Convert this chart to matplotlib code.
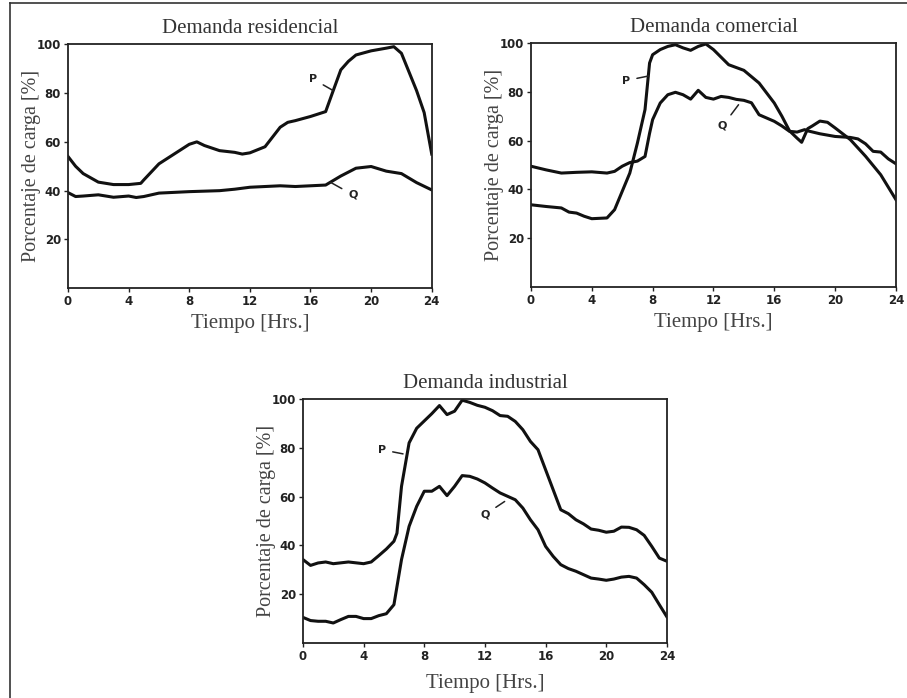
import matplotlib.pyplot as plt
from matplotlib.lines import Line2D

# Residential demand
res_p_h = [0, 0.5, 1, 2, 3, 4, 4.8, 5, 6, 7, 8, 8.5, 9, 10, 11, 11.5, 12, 13, 14, 14.5, 15, 16, 17,
           17.5, 18, 18.5, 19, 20, 21, 21.5, 22, 23, 23.5, 24]
res_p = [54, 50, 47, 43.5, 42.5, 42.5, 43, 44.4, 51, 55, 59, 60, 58.5, 56.4, 55.7, 55, 55.5, 58, 66,
         68, 68.7, 70.4, 72.4, 81, 89.5, 93, 95.6, 97.3, 98.4, 99, 96.3, 81, 72, 55]
res_q_h = [0, 0.5, 1, 2, 3, 4, 4.5, 5, 6, 8, 10, 11, 12, 14, 15, 16, 17, 18, 19, 20, 21, 22, 23, 24]
res_q = [39.2, 37.6, 37.8, 38.3, 37.3, 37.8, 37.2, 37.6, 39, 39.6, 40, 40.6, 41.4, 42, 41.7, 42, 42.3,
         46, 49.2, 49.9, 48, 47, 43.3, 40.3]

# Commercial demand
com_p_h = [0, 1, 2, 2.5, 3, 3.5, 4, 5, 5.5, 6, 6.5, 7, 7.5, 7.8, 8, 8.5, 9, 9.5, 10, 10.5, 11, 11.5,
           12, 13, 14, 15, 16, 16.5, 17, 17.5, 17.8, 18.2, 18.5, 19, 19.5, 20, 21, 22, 23, 24]
com_p = [33.7, 33, 32.4, 30.7, 30.3, 29, 28, 28.3, 31.7, 39.2, 46.7, 59, 72.7, 91.8, 95.2, 97.3, 98.6,
         99.3, 98, 97, 98.6, 99.6, 97.3, 91.1, 88.8, 83.6, 75.4, 70, 64, 61, 59.3, 64.9, 66, 68, 67.5,
         65.2, 60.4, 53.6, 46, 35.8]
com_q_h = [0, 1, 2, 3, 4, 5, 5.5, 6, 6.5, 7, 7.5, 7.8, 8, 8.5, 9, 9.5, 10, 10.5, 11, 11.5, 12, 12.5,
           13, 13.5, 14, 14.5, 15, 16, 16.5, 17, 17.5, 18, 18.2, 19, 20, 21, 21.5, 22, 22.5, 23, 23.5, 24]
com_q = [49.5, 48, 46.7, 47, 47.2, 46.7, 47.4, 49.5, 51, 51.6, 53.5, 63, 68.6, 75.4, 78.8, 79.8, 78.8,
         77, 80.6, 77.7, 77, 78.1, 77.7, 76.9, 76.5, 75.5, 70.6, 67.9, 66, 63.8, 63.5, 64.5, 64, 62.8,
         61.7, 61.3, 60.7, 58.7, 55.6, 55.3, 52.5, 50.5]

# Industrial demand
ind_p_h = [0, 0.5, 1, 1.5, 2, 3, 4, 4.5, 5, 5.5, 6, 6.2, 6.5, 7, 7.5, 8, 8.5, 9, 9.5, 10, 10.5, 11,
           11.5, 12, 12.5, 13, 13.5, 14, 14.5, 15, 15.5, 16, 16.5, 17, 17.5, 18, 18.5, 19, 19.5, 20,
           20.5, 21, 21.5, 22, 22.5, 23, 23.5, 24]
ind_p = [34.2, 31.8, 32.8, 33.2, 32.5, 33.2, 32.5, 33.2, 35.8, 38.5, 41.7, 45, 64.2, 82, 88, 91, 94,
         97.3, 93.6, 95, 99.5, 98.6, 97.4, 96.6, 95.2, 93.2, 92.9, 90.8, 87.4, 82.6, 79.2, 71, 62.8,
         54.6, 53, 50.5, 48.8, 46.7, 46.2, 45.4, 45.8, 47.5, 47.4, 46.4, 44.1, 39.6, 34.8, 33.5]
ind_q_h = [0, 0.5, 1, 1.5, 2, 2.5, 3, 3.5, 4, 4.5, 5, 5.5, 6, 6.5, 7, 7.5, 8, 8.5, 9, 9.5, 10, 10.5,
           11, 11.5, 12, 12.5, 13, 13.5, 14, 14.5, 15, 15.5, 16, 16.5, 17, 17.5, 18, 18.5, 19, 19.5,
           20, 20.5, 21, 21.5, 22, 22.5, 23, 23.5, 24]
ind_q = [10.5, 9.2, 8.9, 8.9, 8.2, 9.6, 10.9, 10.9, 10, 10, 11.2, 12, 15.7, 34.2, 47.8, 56, 62.2, 62.2,
         64.2, 60.4, 64.2, 68.6, 68.3, 67.2, 65.6, 63.5, 61.5, 60.1, 58.7, 55.3, 50.5, 46.4, 39.6, 35.5,
         32.1, 30.5, 29.4, 28, 26.6, 26.2, 25.7, 26.2, 27, 27.3, 26.6, 23.9, 20.8, 15.7, 10.7]

x_ticks = [0, 4, 8, 12, 16, 20, 24]
y_ticks = [20, 40, 60, 80, 100]

fig = plt.figure(figsize=(9.07, 6.98), dpi=100)
serif = ['Liberation Serif', 'DejaVu Serif']


def panel(rect, title, ph, p, qh, q, p_lab, q_lab, xpad=4):
    ax = fig.add_axes(rect)
    ax.plot(ph, p, color='#111111', lw=2.2)
    ax.plot(qh, q, color='#111111', lw=2.2)
    ax.set_xlim(0, 24)
    ax.set_ylim(0, 100)
    ax.set_xticks(x_ticks)
    ax.set_yticks(y_ticks)
    ax.tick_params(direction='out', length=3, width=1, pad=2, labelsize=8.5, colors='#222222')
    for lab in ax.get_xticklabels() + ax.get_yticklabels():
        lab.set_fontweight('bold')
    for s in ax.spines.values():
        s.set_linewidth(1.3)
        s.set_color('#222222')
    ax.set_title(title, family=serif, fontsize=15, color='#333333', pad=8)
    ax.set_xlabel('Tiempo [Hrs.]', family=serif, fontsize=15, color='#444444', labelpad=xpad)
    ax.set_ylabel('Porcentaje de carga [%]', family=serif, fontsize=14.5, color='#444444', labelpad=-3)
    # curve labels with leader lines
    for name, (txt, tip) in (('P', p_lab), ('Q', q_lab)):
        ax.annotate(name, xy=tip, xytext=txt, fontsize=8, fontweight='bold', color='#222222',
                    ha='center', va='center',
                    arrowprops=dict(arrowstyle='-', color='#222222', lw=1.1, shrinkA=3, shrinkB=0))
    return ax


panel([0.075, 0.587, 0.401, 0.3496], 'Demanda residencial', res_p_h, res_p, res_q_h, res_q,
      ((16.15, 85.8), (17.5, 81)), ((18.8, 38.3), (17.3, 43.5)))
panel([0.5854, 0.5888, 0.4024, 0.3496], 'Demanda comercial', com_p_h, com_p, com_q_h, com_q,
      ((6.25, 84.6), (7.75, 86.5)), ((12.6, 66), (13.65, 74.7)))
panel([0.334, 0.0788, 0.4013, 0.3496], 'Demanda industrial', ind_p_h, ind_p, ind_q_h, ind_q,
      ((5.2, 79.2), (6.6, 77.5)), ((12.0, 52.6), (13.3, 58)), xpad=8)

# outer frame (left and top edges only)
fig.add_artist(Line2D([10 / 907, 10 / 907], [0, 1 - 3 / 698], color='#333333', lw=1.2))
fig.add_artist(Line2D([10 / 907, 1], [1 - 3 / 698, 1 - 3 / 698], color='#333333', lw=1.2))

fig.savefig('out.png', dpi=100)
